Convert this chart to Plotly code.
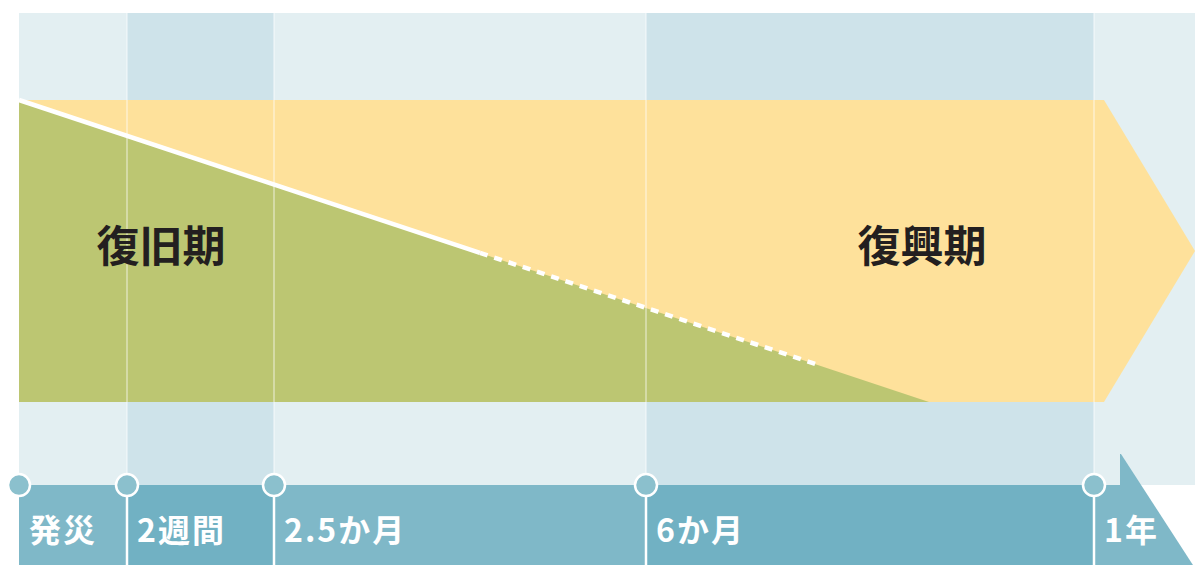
import plotly.graph_objects as go

# ---- data (diagram units: x = timeline position, y = share of phase in %) ----
milestones = ["発災", "2週間", "2.5か月", "6か月", "1年"]
milestone_pos = [0, 108, 255, 627, 1075]
band_edges = [0, 108, 255, 627, 1075, 1176]

# recovery (復旧) share falling from 100% to 0%
recovery_x = [0, 461, 799, 910]
recovery_share = [100, 49.4, 12.3, 0]

# reconstruction (復興) arrow outline
arrow_x = [0, 1085, 1176, 1085, 0]
arrow_y = [100, 100, 50, 0, 0]

phase_names = ["復旧期", "復興期"]
phase_x = [142, 903]
phase_y = [50, 50]

# ---- layout constants ----
Y_TOP = 128.8
Y_BOTTOM = -54.0
BAR_TOP = -27.5
BAR_TIP = -17.2
BAR_END = 1102
LABEL_Y = -43.7

band_light = "#e3eff2"
band_dark = "#cee3ea"
bar_light = "#7fb8c8"
bar_dark = "#71b1c3"
yellow = "#fee19b"
green = "#bcc672"
marker_fill = "#8bc0cd"
text_dark = "#231f20"
SP = "\u200a"

fig = go.Figure()

# background bands
for i in range(len(band_edges) - 1):
    x0, x1 = band_edges[i], band_edges[i + 1]
    fig.add_trace(go.Scatter(
        x=[x0, x1, x1, x0], y=[Y_TOP, Y_TOP, BAR_TOP, BAR_TOP],
        fill="toself", fillcolor=band_dark if i % 2 else band_light,
        line=dict(width=0), mode="lines", hoverinfo="skip", showlegend=False))

# yellow arrow (復興)
fig.add_trace(go.Scatter(x=arrow_x, y=arrow_y, fill="toself", fillcolor=yellow,
                         line=dict(width=0), mode="lines", hoverinfo="skip", showlegend=False))

# green area (復旧)
fig.add_trace(go.Scatter(x=[recovery_x[0], recovery_x[-1], 0], y=[recovery_share[0], recovery_share[-1], 0],
                         fill="toself", fillcolor=green, line=dict(width=0), mode="lines",
                         hoverinfo="skip", showlegend=False))

# white boundary line: solid then dotted
fig.add_trace(go.Scatter(x=recovery_x[:2], y=recovery_share[:2], mode="lines",
                         line=dict(color="white", width=4.5), hoverinfo="skip", showlegend=False))
fig.add_trace(go.Scatter(x=recovery_x[1:3], y=recovery_share[1:3], mode="lines",
                         line=dict(color="white", width=4.5, dash="8px,7px"), hoverinfo="skip", showlegend=False))

# thin translucent vertical lines in upper area
for p in milestone_pos[1:]:
    fig.add_trace(go.Scatter(x=[p, p], y=[Y_TOP, BAR_TOP], mode="lines",
                             line=dict(color="rgba(255,255,255,0.38)", width=2),
                             hoverinfo="skip", showlegend=False))

# bottom bar segments
bar_edges = band_edges[:-1] + [BAR_END]
for i in range(len(bar_edges) - 1):
    x0, x1 = bar_edges[i], bar_edges[i + 1]
    fig.add_trace(go.Scatter(
        x=[x0, x1, x1, x0], y=[BAR_TOP, BAR_TOP, Y_BOTTOM, Y_BOTTOM],
        fill="toself", fillcolor=bar_dark if i % 2 else bar_light,
        line=dict(width=0), mode="lines", hoverinfo="skip", showlegend=False))
# bar arrow head
fig.add_trace(go.Scatter(x=[BAR_END - 1, BAR_END, 1174, BAR_END - 1], y=[BAR_TIP, BAR_TIP, Y_BOTTOM, Y_BOTTOM],
                         fill="toself", fillcolor=bar_light, line=dict(width=0), mode="lines",
                         hoverinfo="skip", showlegend=False))

# white solid lines under markers
for p in milestone_pos[1:]:
    fig.add_trace(go.Scatter(x=[p, p], y=[BAR_TOP, Y_BOTTOM], mode="lines",
                             line=dict(color="white", width=2.5), hoverinfo="skip", showlegend=False))

# markers
fig.add_trace(go.Scatter(x=milestone_pos, y=[BAR_TOP] * len(milestone_pos), mode="markers",
                         marker=dict(size=22, color=marker_fill, line=dict(color="white", width=2.5)),
                         hoverinfo="skip", showlegend=False))

# milestone labels
fig.add_trace(go.Scatter(x=[p + 10 for p in milestone_pos], y=[LABEL_Y] * len(milestone_pos),
                         mode="text", text=[f"<b>{SP.join(m)}</b>" for m in milestones],
                         textposition="middle right",
                         textfont=dict(family="Noto Sans CJK JP", size=32, color="white"),
                         hoverinfo="skip", showlegend=False))

# phase titles
fig.add_trace(go.Scatter(x=phase_x, y=phase_y, mode="text",
                         text=[f"<b>{n}</b>" for n in phase_names], textposition="middle center",
                         textfont=dict(family="Noto Sans CJK JP", size=43, color=text_dark),
                         hoverinfo="skip", showlegend=False))

fig.update_layout(
    width=1195, height=565, margin=dict(l=0, r=0, t=0, b=0),
    paper_bgcolor="white", plot_bgcolor="white",
    xaxis=dict(range=[-19, 1176], visible=False, fixedrange=True),
    yaxis=dict(range=[-53.97, 133.11], visible=False, fixedrange=True),
)

fig.write_html("out.html", config={"displayModeBar": False},
               post_script="document.body.style.margin='0';")
